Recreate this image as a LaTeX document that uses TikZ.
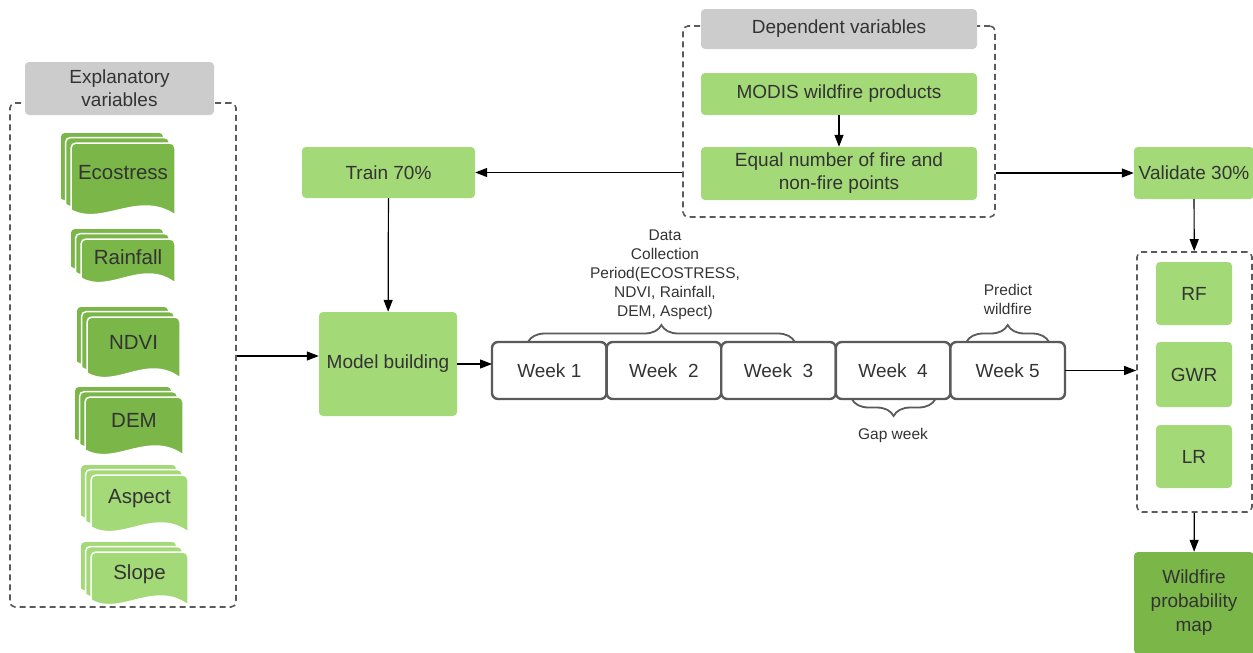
\documentclass[tikz,border=0pt]{standalone}
\usepackage{fontspec}
\setmainfont{Liberation Sans}
\usetikzlibrary{positioning, arrows.meta, decorations.pathreplacing}

\definecolor{lightgreen}{HTML}{A3D977}
\definecolor{darkgreen}{HTML}{7AB648}
\definecolor{headgray}{HTML}{CCCCCC}
\definecolor{inkgray}{HTML}{333333}
\definecolor{linegray}{HTML}{5A5A5A}

\begin{document}
\begin{tikzpicture}[
      x=1pt, y=-1pt,
      font=\fontsize{19}{23}\selectfont,
      every node/.append style={text=inkgray},
      box/.style={
          rectangle,
          rounded corners=4pt,
          align=center,
          fill=lightgreen,
          inner sep=0pt
        },
      head/.style={
          rectangle,
          rounded corners=4pt,
          align=center,
          fill=headgray,
          inner sep=0pt
        },
      group/.style={
          rectangle,
          draw=linegray,
          dash pattern=on 6pt off 4pt,
          line width=1.6pt,
          rounded corners=5pt,
          inner sep=0pt
        },
      week/.style={
          rectangle,
          draw=linegray,
          line width=2.4pt,
          rounded corners=6pt,
          fill=white,
          minimum width=114.6pt,
          minimum height=57pt,
          inner sep=0pt,
          outer sep=0pt
        },
      note/.style={
          align=center,
          font=\fontsize{15.5}{19}\selectfont
        },
      brace/.style={
          draw=linegray,
          line width=1.8pt,
          decorate,
          decoration={brace, amplitude=17pt}
        },
      arrow/.style={
          -{Triangle[length=12pt, width=9pt]},
          line width=1.2pt
        }
    ]

    \useasboundingbox (0,0) rectangle (1253,653);

    % Groups
    \node[group, minimum width=226pt, minimum height=504pt] (expl) at (123,355) {};
    \node[group, minimum width=312pt, minimum height=191pt] (dep) at (839,121.5) {};
    \node[group, minimum width=115pt, minimum height=260pt] (algs) at (1194.5,382) {};

    % Headers
    \node[head, minimum width=189pt, minimum height=53pt] (explhead) at (119.5,88.5) {Explanatory\\variables};
    \node[head, minimum width=276pt, minimum height=40pt] (dephead) at (839,29) {Dependent variables};

    % Explanatory variables (stacked documents)
    \foreach \nm/\txt/\l/\t/\r/\b/\col in {
        eco/Ecostress/71/143/175/215/darkgreen,
        rain/Rainfall/81/239/175/283/darkgreen,
        ndvi/NDVI/87/317/180/378/darkgreen,
        dem/DEM/85/397/183/455/darkgreen,
        asp/Aspect/91/475/188/532/lightgreen,
        slope/Slope/91/552/188/605/lightgreen} {
      \foreach \k in {2,1,0}
        \filldraw[fill=\col, draw=white, line width=1.5pt, shift={(-5.5*\k,-5.5*\k)}]
          (\l,\b-5) [rounded corners=5pt] -- (\l,\t) -- (\r,\t) [sharp corners] -- (\r,\b)
          .. controls ({\r-0.35*(\r-\l)},\b-25) and ({\l+0.3*(\r-\l)},\b+12) .. (\l,\b-5) -- cycle;
      \node[font=\fontsize{20.5}{24}\selectfont] (\nm) at ({(\l+\r)/2},{\t+0.41*(\b-\t)}) {\txt};
    }

    % Dependent variables
    \node[box, minimum width=276pt, minimum height=42pt] (modis) at (839,94) {MODIS wildfire products};
    \node[box, minimum width=276pt, minimum height=53pt] (equal) at (839,173.5) {Equal number of fire and\\non-fire points};

    % Training / validation
    \node[box, minimum width=173pt, minimum height=51pt] (train) at (388.5,172.5) {Train 70\%};
    \node[box, minimum width=120pt, minimum height=52pt] (val) at (1194,173) {Validate 30\%};
    \node[box, minimum width=138pt, minimum height=104pt] (model) at (388,364) {Model building};

    % Weeks
    \node[week] (w1) at (549.3,370.5) {Week 1};
    \node[week, right=0pt of w1] (w2) {Week~~2};
    \node[week, right=0pt of w2] (w3) {Week~~3};
    \node[week, right=0pt of w3] (w4) {Week~~4};
    \node[week, right=0pt of w4] (w5) {Week 5};

    % Braces
    \draw[brace] ([xshift=36pt]w1.north west) -- ([xshift=-41pt]w3.north east);
    \draw[brace] ([xshift=16pt]w5.north west) -- ([xshift=-16pt]w5.north east);
    \draw[brace] ([xshift=-15pt]w4.south east) -- ([xshift=16pt]w4.south west);
    \node[note] (period) at (665,275) {Data\\Collection\\Period(ECOSTRESS,\\NDVI, Rainfall,\\DEM, Aspect)};
    \node[note] (predict) at (1008,299.5) {Predict\\wildfire};
    \node[note] (gap) at (893,435) {Gap week};

    % Models
    \node[box, minimum width=76pt, minimum height=63pt] (rf) at (1194,293.5) {RF};
    \node[box, minimum width=76pt, minimum height=65pt] (gwr) at (1194,374.5) {GWR};
    \node[box, minimum width=76pt, minimum height=63pt] (lr) at (1194,456.5) {LR};
    \node[box, fill=darkgreen, font=\fontsize{19}{24}\selectfont, minimum width=120pt, minimum height=102pt] (map) at (1194,603) {Wildfire\\probability\\map};

    % Arrows
    \draw[arrow] (modis) -- (equal);
    \draw[arrow] (train.east -| dep.west) -- (train.east);
    \draw[arrow] (val.west -| dep.east) -- (val.west);
    \draw[arrow] (train) -- (model);
    \draw[arrow] ([yshift=8pt]model.west -| expl.east) -- ([yshift=8pt]model.west);
    \draw[arrow] (model.east) -- (model.east -| w1.west);
    \draw[arrow] (w5.east) -- (w5.east -| algs.west);
    \draw[arrow] (val) -- (algs);
    \draw[arrow] (algs) -- (map);

  \end{tikzpicture}
\end{document}
